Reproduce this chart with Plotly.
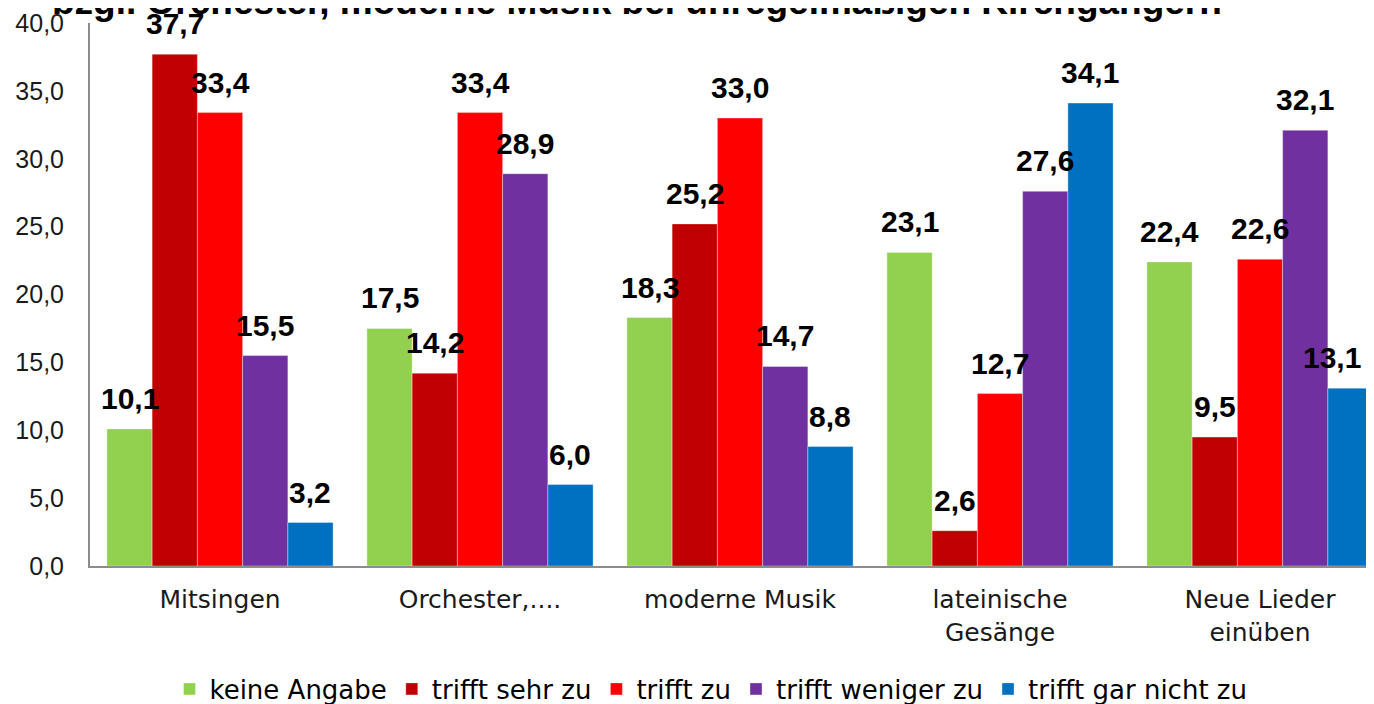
import plotly.graph_objects as go

categories = ["Mitsingen", "Orchester,....", "moderne Musik", "lateinische<br>Gesänge", "Neue Lieder<br>einüben"]
series_names = ["keine Angabe", "trifft sehr zu", "trifft zu", "trifft weniger zu", "trifft gar nicht zu"]
keine_angabe = [10.1, 17.5, 18.3, 23.1, 22.4]
trifft_sehr_zu = [37.7, 14.2, 25.2, 2.6, 9.5]
trifft_zu = [33.4, 33.4, 33.0, 12.7, 22.6]
trifft_weniger_zu = [15.5, 28.9, 14.7, 27.6, 32.1]
trifft_gar_nicht_zu = [3.2, 6.0, 8.8, 34.1, 13.1]
colors = ["#92D050", "#C00000", "#FF0000", "#7030A0", "#0070C0"]
title_text = "bzgl. Orchester, moderne Musik bei unregelmäßigen Kirchgängern"

values = [keine_angabe, trifft_sehr_zu, trifft_zu, trifft_weniger_zu, trifft_gar_nicht_zu]

W, H = 1366, 696
L, T = 82, 15
plot_bottom = 558
B = H - plot_bottom
plot_w = W - L
plot_h = H - T - B
band_px = 260.0
bargap = 0.13
bar_px = band_px * (1 - bargap) / len(values)
label_half_w = 30
right_limit = W - 12

fig = go.Figure()
for i, (name, vals, col) in enumerate(zip(series_names, values, colors)):
    fig.add_trace(go.Bar(
        x=categories, y=vals, name=name,
        marker=dict(color=col, line=dict(color="rgba(255,255,255,0.35)", width=1)),
    ))
    for j, (cat, v) in enumerate(zip(categories, vals)):
        shift = (i - (len(values) - 1) / 2) * bar_px
        center_px = L + (j + 0.5) * band_px + shift
        overflow = center_px + label_half_w - right_limit
        if overflow > 0:
            shift -= overflow
        fig.add_annotation(
            x=cat, y=v, xref="x", yref="y", text="<b>" + f"{v:.1f}".replace(".", ",") + "</b>",
            showarrow=False, xanchor="center", yanchor="bottom",
            xshift=shift, yshift=12,
            font=dict(family="Liberation Sans", size=30, color="#000000"),
        )

fig.update_layout(
    width=W, height=H,
    margin=dict(l=L, r=0, t=T, b=B, autoexpand=False),
    separators=",.",
    barmode="group", bargap=bargap, bargroupgap=0,
    plot_bgcolor="white", paper_bgcolor="white",
    font=dict(family="DejaVu Sans", size=24, color="#1a1a1a"),
    showlegend=True,
    legend=dict(orientation="h", x=(703 - L) / plot_w, xanchor="center", y=(plot_bottom - 681) / plot_h,
                yanchor="middle", font=dict(family="DejaVu Sans", size=26, color="#000000"),
                itemwidth=30, traceorder="normal"),
)
fig.update_xaxes(range=[-0.5, -0.5 + plot_w / band_px], showline=True, linecolor="#8c8c8c", linewidth=2,
                 ticks="", ticklabelstandoff=10,
                 tickfont=dict(family="DejaVu Sans", size=25, color="#1a1a1a"), fixedrange=True)
fig.update_yaxes(range=[0, 40], dtick=5, tickformat=".1f", showgrid=False, zeroline=False,
                 showline=True, linecolor="#8c8c8c", linewidth=2, ticks="", ticklabelstandoff=19,
                 tickfont=dict(family="Liberation Sans", size=25, color="#1a1a1a"))
fig.add_annotation(text="<b>" + title_text + "</b>", xref="paper", yref="paper",
                   x=(629 - L) / plot_w, y=(plot_bottom - 16) / plot_h, xanchor="center", yanchor="bottom",
                   showarrow=False, font=dict(family="Liberation Sans", size=37, color="#000000"))
fig.write_html("out.html")
